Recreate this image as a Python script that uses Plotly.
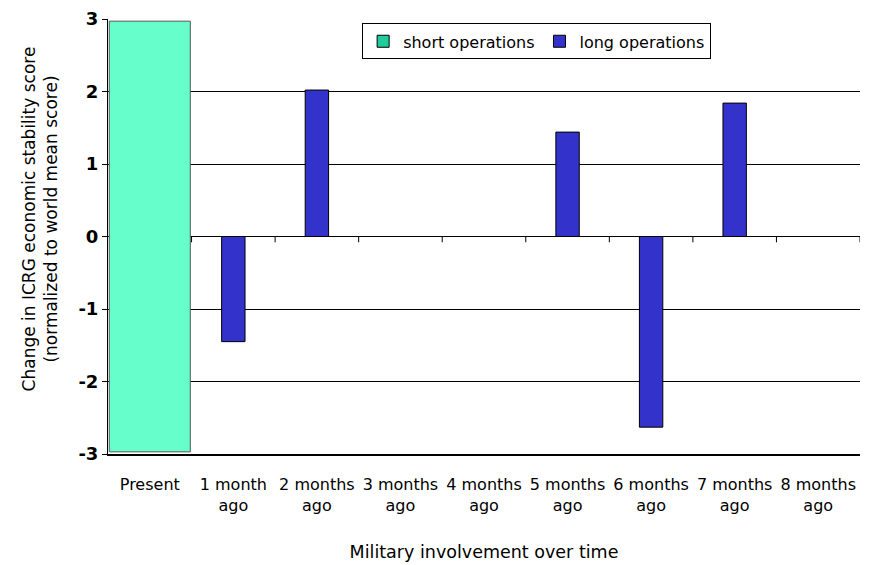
import plotly.graph_objects as go

categories = ["Present", "1 month<br>ago", "2 months<br>ago", "3 months<br>ago", "4 months<br>ago",
              "5 months<br>ago", "6 months<br>ago", "7 months<br>ago", "8 months<br>ago"]
short_top = [2.97, None, None, None, None, None, None, None, None]
short_bottom = [-2.97, None, None, None, None, None, None, None, None]
long_ops = [None, -1.45, 2.02, None, None, 1.44, -2.63, 1.84, None]

y_ticks = [-3, -2, -1, 0, 1, 2, 3]
y_ticktext = ["-3", "-2", "-1", "0", "1", "2", "3"]

FONT = "DejaVu Sans"

fig = go.Figure()
x_idx = list(range(len(categories)))

short_h = [(t - b) if t is not None else None for t, b in zip(short_top, short_bottom)]
fig.add_trace(go.Bar(
    x=x_idx, y=short_h, base=short_bottom, width=0.97,
    marker=dict(color="#66FFCC", line=dict(color="#555555", width=1)),
    name="short operations", showlegend=False,
))
fig.add_trace(go.Bar(
    x=x_idx, y=long_ops, width=0.28,
    marker=dict(color="#3333CC", line=dict(color="#000000", width=1)),
    name="long operations", showlegend=False,
))
# legend entries
fig.add_trace(go.Bar(x=[None], y=[None], name="short operations",
                     marker=dict(color="#1FCC9A", line=dict(color="#000000", width=1))))
fig.add_trace(go.Bar(x=[None], y=[None], name="long operations",
                     marker=dict(color="#3333CC", line=dict(color="#000000", width=1))))

# small tick marks at category boundaries on the zero line
for i in range(len(categories)):
    fig.add_shape(type="line", xref="x", yref="y", x0=i + 0.5, x1=i + 0.5, y0=0, y1=-0.08,
                  line=dict(color="#000000", width=1))

# y-axis title (placed slightly above the plot centre, as in the original)
fig.add_annotation(
    text="Change in ICRG economic stability score<br>(normalized to world mean score)",
    xref="paper", yref="paper", x=-0.09, y=0.54, xanchor="center", yanchor="middle",
    textangle=-90, showarrow=False, font=dict(family=FONT, size=17, color="#000000"),
)

fig.update_layout(
    width=875, height=565,
    margin=dict(l=100, r=23, t=11, b=119, autoexpand=False),
    paper_bgcolor="white", plot_bgcolor="white",
    barmode="overlay",
    font=dict(family=FONT, size=16, color="#000000"),
    legend=dict(orientation="h", x=0.57, xanchor="center", y=0.99, yanchor="top",
                bordercolor="#000000", borderwidth=1, bgcolor="white",
                font=dict(family=FONT, size=16), traceorder="normal",
                itemwidth=30, tracegroupgap=0),
    xaxis=dict(
        tickmode="array", tickvals=x_idx, ticktext=categories,
        range=[-0.5, len(categories) - 0.5],
        showline=True, linecolor="#000000", linewidth=2, ticks="",
        showgrid=False, zeroline=False, automargin=False,
        tickfont=dict(family=FONT, size=16),
        ticklabelstandoff=15,
        title=dict(text="Military involvement over time",
                   font=dict(family=FONT, size=17.5), standoff=32),
    ),
    yaxis=dict(
        range=[-3, 3], tickmode="array", tickvals=y_ticks, ticktext=y_ticktext,
        showline=True, linecolor="#000000", linewidth=1,
        ticks="outside", ticklen=5, tickcolor="#000000",
        showgrid=True, gridcolor="#000000", gridwidth=1,
        zeroline=False, automargin=False,
        tickfont=dict(family=FONT, size=18, weight="bold"),
    ),
)

fig.write_html("out.html")
